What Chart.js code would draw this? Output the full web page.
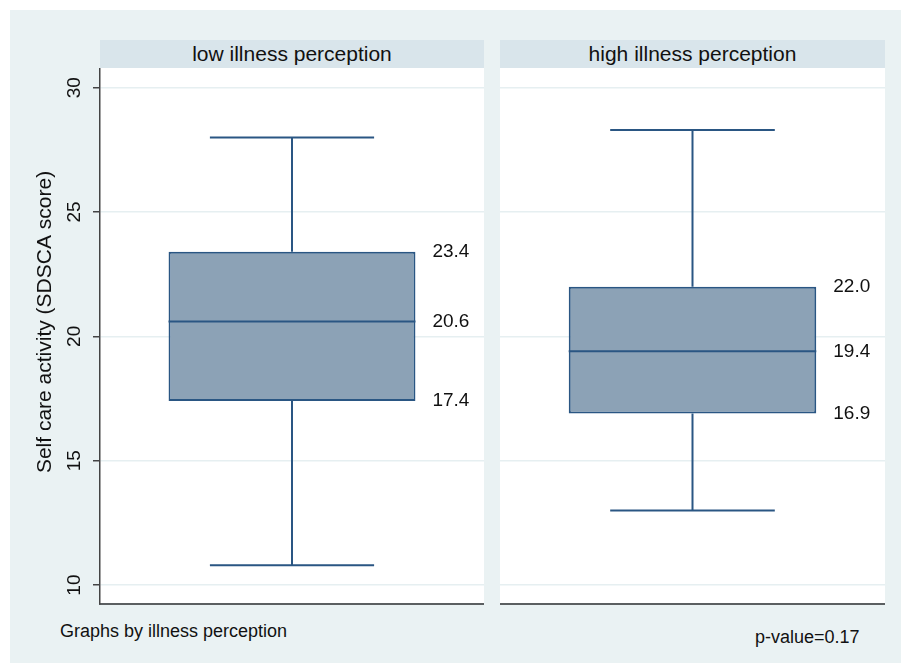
<!DOCTYPE html>
<html>
<head>
<meta charset="utf-8">
<script src="https://cdn.jsdelivr.net/npm/chart.js@4.4.0/dist/chart.umd.min.js"></script>
<style>
  body { margin: 0; width: 901px; height: 663px; background: #fff; position: relative; overflow: hidden;
         font-family: "Liberation Sans", Arial, Helvetica, sans-serif; }
  #bg { position: absolute; left: 10px; top: 10px; width: 891px; height: 653px; background: #eaf2f3; }
  .strip { position: absolute; top: 40px; height: 28px; background: #d9e5eb; color: #111;
           font-size: 21px; line-height: 28px; text-align: center; }
  .note { position: absolute; font-size: 18px; color: #111; white-space: nowrap; }
  canvas { position: absolute; }
</style>
</head>
<body>
<div id="bg"></div>
<div class="strip" id="strip0" style="left:100px; width:384px;"></div>
<div class="strip" id="strip1" style="left:500px; width:385px;"></div>
<canvas id="panel0" width="484" height="540" style="left:0; top:68px;"></canvas>
<canvas id="panel1" width="385" height="540" style="left:500px; top:68px;"></canvas>
<div class="note" style="left:60px; top:621px;">Graphs by illness perception</div>
<div class="note" style="left:755px; top:627px;">p-value=0.17</div>

<script>
// --- DATOS ---
const panels = ['low illness perception', 'high illness perception'];
const whiskerLow = [10.8, 13.0];
const q1 = [17.4, 16.9];
const median = [20.6, 19.4];
const q3 = [23.4, 22.0];
const whiskerHigh = [28.0, 28.3];
const yTicks = [10, 15, 20, 25, 30];
const yTitle = 'Self care activity (SDSCA score)';

const FONT = '"Liberation Sans", Arial, Helvetica, sans-serif';
const LINE = '#2a5683';
const FILL = '#8ca2b6';

// caja: bigotes, mediana y etiquetas sobre la barra flotante
const boxPlugin = {
    id: 'boxPlugin',
    beforeDraw(chart) {
        const { ctx, chartArea: a } = chart;
        ctx.save();
        ctx.fillStyle = '#fff';
        ctx.fillRect(a.left, a.top, a.right - a.left, a.bottom - a.top);
        ctx.restore();
    },
    afterDatasetsDraw(chart, args, opts) {
        const i = opts.index;
        const { ctx, scales: { y } } = chart;
        const bar = chart.getDatasetMeta(0).data[0];
        const cx = bar.x;
        const half = bar.width / 2;
        const cap = half * 0.665;
        const py = v => y.getPixelForValue(v);

        ctx.save();
        ctx.strokeStyle = LINE;
        ctx.lineWidth = 2;
        ctx.beginPath();
        ctx.moveTo(cx, py(q3[i])); ctx.lineTo(cx, py(whiskerHigh[i]));
        ctx.moveTo(cx, py(q1[i])); ctx.lineTo(cx, py(whiskerLow[i]));
        ctx.moveTo(cx - cap, py(whiskerHigh[i])); ctx.lineTo(cx + cap, py(whiskerHigh[i]));
        ctx.moveTo(cx - cap, py(whiskerLow[i])); ctx.lineTo(cx + cap, py(whiskerLow[i]));
        ctx.moveTo(cx - half, py(median[i])); ctx.lineTo(cx + half, py(median[i]));
        ctx.stroke();

        ctx.fillStyle = '#111';
        ctx.font = `19px ${FONT}`;
        ctx.textAlign = 'left';
        ctx.textBaseline = 'middle';
        [q3[i], median[i], q1[i]].forEach(v => {
            ctx.fillText(v.toFixed(1), cx + half + 17, py(v));
        });
        ctx.restore();
    },
    afterDraw(chart, args, opts) {
        if (!opts.axis) return;
        const { ctx, chartArea: a, scales: { y } } = chart;
        ctx.save();
        ctx.fillStyle = '#111';
        ctx.textAlign = 'center';
        ctx.textBaseline = 'middle';
        // etiquetas del eje Y giradas
        ctx.font = `19px ${FONT}`;
        y.ticks.forEach(t => {
            ctx.save();
            ctx.translate(a.left - 25, y.getPixelForValue(t.value));
            ctx.rotate(-Math.PI / 2);
            ctx.fillText(String(t.value), 0, 0);
            ctx.restore();
        });
        // título del eje (centrado en panel + cabecera)
        ctx.font = `21px ${FONT}`;
        ctx.translate(45, (a.top - 28 + a.bottom) / 2);
        ctx.rotate(-Math.PI / 2);
        ctx.fillText(yTitle, 0, 0);
        ctx.restore();
    }
};

const makePanel = (i, showAxis) => {
    document.querySelector(`#strip${i}`).textContent = panels[i];
    return new Chart(document.querySelector(`#panel${i}`), {
        type: 'bar',
        data: {
            labels: [panels[i]],
            datasets: [{
                data: [[q1[i], q3[i]]],
                backgroundColor: FILL,
                borderColor: LINE,
                borderWidth: 2,
                borderSkipped: false,
                barPercentage: 0.643,
                categoryPercentage: 1
            }]
        },
        options: {
            responsive: false,
            animation: false,
            layout: { padding: { top: 0, bottom: 4, left: 0, right: 0 } },
            scales: {
                x: {
                    ticks: { display: false },
                    grid: { display: false, drawTicks: false },
                    border: { display: true, color: '#5b5f61', width: 2 }
                },
                y: {
                    min: 9.24,
                    max: 30.79,
                    afterBuildTicks: s => { s.ticks = yTicks.map(v => ({ value: v })); },
                    afterFit: s => { s.width = showAxis ? 100 : 0; },
                    ticks: { display: false },
                    grid: {
                        color: '#e6eff1',
                        lineWidth: 1.5,
                        drawTicks: showAxis,
                        tickLength: 7,
                        tickColor: '#444',
                        tickWidth: 1.5
                    },
                    border: { display: showAxis, color: '#444', width: 1.5 }
                }
            },
            plugins: {
                legend: { display: false },
                tooltip: { enabled: false },
                boxPlugin: { index: i, axis: showAxis }
            }
        },
        plugins: [boxPlugin]
    });
};

makePanel(0, true);
makePanel(1, false);
</script>
</body>
</html>
